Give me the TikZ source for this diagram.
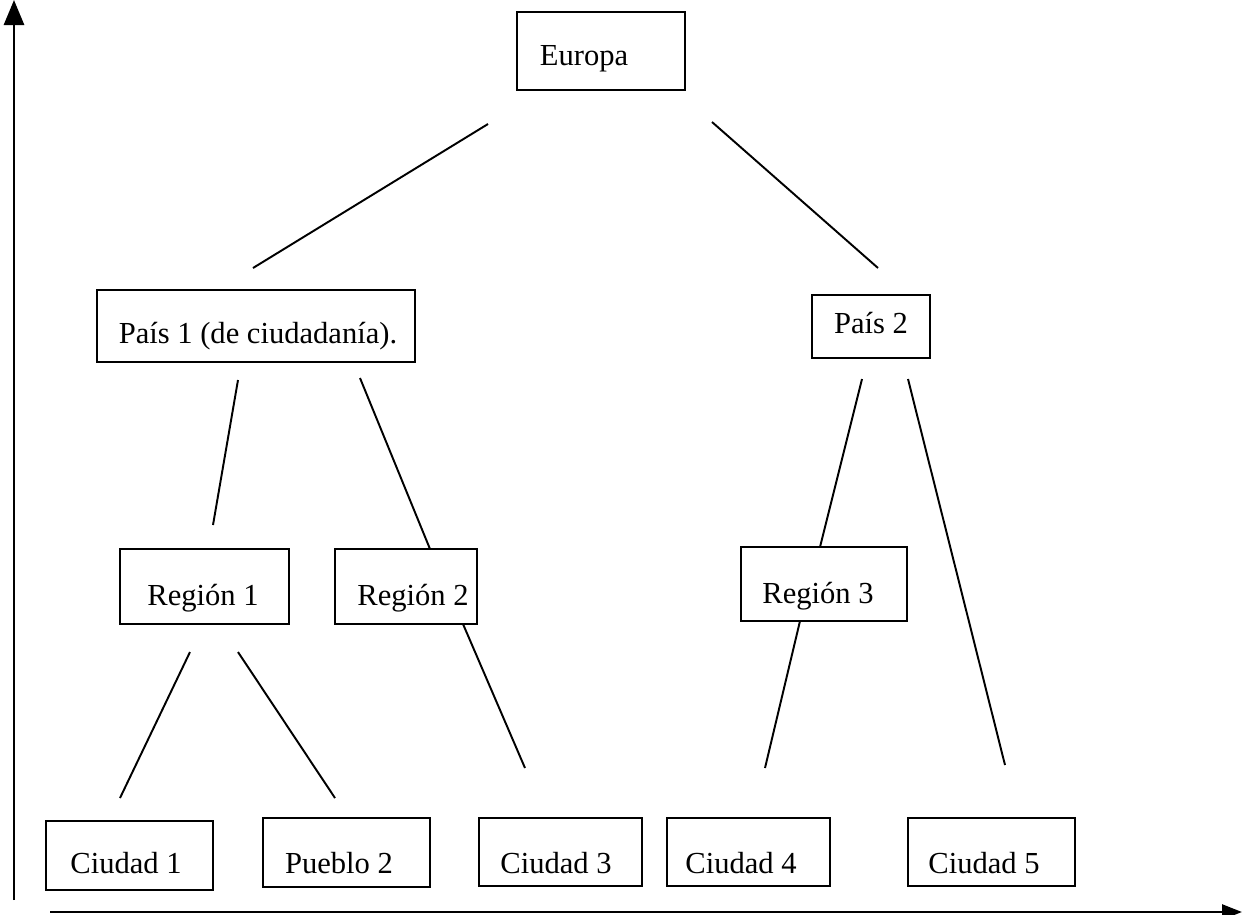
\documentclass[tikz,border=0pt]{standalone}
\usepackage{fontspec}
\setmainfont{Liberation Serif}
\usetikzlibrary{arrows.meta}
\begin{document}
\begin{tikzpicture}[x=0.02cm,y=-0.02cm,
  box/.style={draw,line width=1.1pt,inner sep=0pt,outer sep=0pt},
  lbl/.style={anchor=base,inner sep=0pt,font=\fontsize{17.4}{20}\selectfont},
  link/.style={line width=1.1pt},
  axis/.style={line width=1.6pt}]
\useasboundingbox (0,0) rectangle (1251,914);

% boxes of the hierarchy
\node[box,minimum width=3.36cm,minimum height=1.56cm] (eu) at (601,51) {};
\node[box,minimum width=6.36cm,minimum height=1.44cm] (p1) at (256,326) {};
\node[box,minimum width=2.36cm,minimum height=1.26cm] (p2) at (871,326.5) {};
\node[box,minimum width=3.38cm,minimum height=1.5cm] (r1) at (204.5,586.5) {};
\node[box,minimum width=2.84cm,minimum height=1.5cm] (r2) at (406,586.5) {};
\node[box,minimum width=3.32cm,minimum height=1.48cm] (r3) at (824,584) {};
\node[box,minimum width=3.34cm,minimum height=1.38cm] (c1) at (129.5,855.5) {};
\node[box,minimum width=3.34cm,minimum height=1.38cm] (pu2) at (346.5,852.5) {};
\node[box,minimum width=3.26cm,minimum height=1.36cm] (c3) at (560.5,852) {};
\node[box,minimum width=3.26cm,minimum height=1.36cm] (c4) at (748.5,852) {};
\node[box,minimum width=3.34cm,minimum height=1.36cm] (c5) at (991.5,852) {};

% their texts, placed on the baseline
\node[lbl] (eu-t) at (584,65) {Europa};
\node[lbl] (p1-t) at (258,343) {País 1 (de ciudadanía).};
\node[lbl] (p2-t) at (871,333) {País 2};
\node[lbl] (r1-t) at (203,605) {Región 1};
\node[lbl] (r2-t) at (413,605) {Región 2};
\node[lbl] (r3-t) at (818,603) {Región 3};
\node[lbl] (c1-t) at (126,873) {Ciudad 1};
\node[lbl] (pu2-t) at (339,873) {Pueblo 2};
\node[lbl] (c3-t) at (556,873) {Ciudad 3};
\node[lbl] (c4-t) at (741,873) {Ciudad 4};
\node[lbl] (c5-t) at (984,873) {Ciudad 5};

% free ends of the connecting strokes
\coordinate (eu-a) at (488,124);  \coordinate (p1-a) at (253,268);
\coordinate (eu-b) at (712,122);  \coordinate (p2-a) at (878,268);
\coordinate (p1-b) at (238,380);  \coordinate (r1-a) at (213,525);
\coordinate (p1-c) at (360,378);  \coordinate (r2-a) at (430,549);
\coordinate (p2-b) at (862,379);  \coordinate (r3-a) at (820,547);
\coordinate (p2-c) at (908,379);  \coordinate (c5-a) at (1005,765);
\coordinate (r1-b) at (190,652);  \coordinate (c1-a) at (120,798);
\coordinate (r1-c) at (238,652);  \coordinate (pu2-a) at (335,798);
\coordinate (r2-b) at (463,624);  \coordinate (c3-a) at (525,768);
\coordinate (r3-b) at (800,621);  \coordinate (c4-a) at (765,768);

\draw[link] (eu-a) -- (p1-a);
\draw[link] (eu-b) -- (p2-a);
\draw[link] (p1-b) -- (r1-a);
\draw[link] (p1-c) -- (r2-a);
\draw[link] (p2-b) -- (r3-a);
\draw[link] (p2-c) -- (c5-a);
\draw[link] (r1-b) -- (c1-a);
\draw[link] (r1-c) -- (pu2-a);
\draw[link] (r2-b) -- (c3-a);
\draw[link] (r3-b) -- (c4-a);

% axes
\coordinate (yo) at (14,900);
\coordinate (yt) at (14,0);
\coordinate (xo) at (50,912);
\coordinate (xt) at (1242,912);
\draw[axis,-{Triangle[width=0.4cm,length=0.5cm]}] (yo) -- (yt);
\draw[axis,-{Triangle[width=0.3cm,length=0.4cm]}] (xo) -- (xt);
\end{tikzpicture}
\end{document}
